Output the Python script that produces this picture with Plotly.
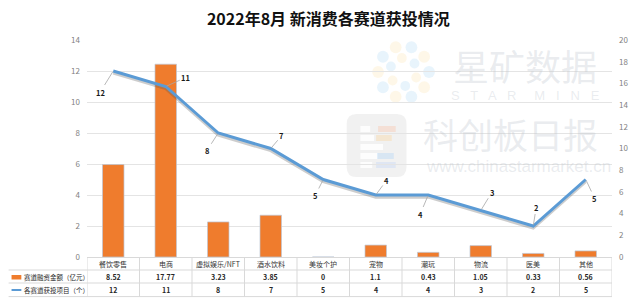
import plotly.graph_objects as go
import math

categories = ["餐饮零售", "电商", "虚拟娱乐/NFT", "酒水饮料", "美妆个护", "宠物", "潮玩", "物流", "医美", "其他"]
funding = [8.52, 17.77, 3.23, 3.85, 0, 1.1, 0.43, 1.05, 0.33, 0.56]
projects = [12, 11, 8, 7, 5, 4, 4, 3, 2, 5]
funding_labels = ["8.52", "17.77", "3.23", "3.85", "0", "1.1", "0.43", "1.05", "0.33", "0.56"]
label_offsets = [(-13, 21), (20, -9), (-11, 17), (11, -13), (-8, 16), (11, -15), (-8, 19), (11, -18), (3, -19), (9, 19)]

W, H = 640, 299
L, R, T, B = 87, 622.7, 40, 257
PW, PH = R - L, B - T


def px(p):
    return (p - L) / PW


def py(p):
    return (B - p) / PH


FONT = "Noto Sans CJK SC"
GRID = "#E4E4E4"
BORDER = "#D9D9D9"
ORANGE = "#EF7C2D"
BLUE = "#5B9BD5"

fig = go.Figure()

fig.add_trace(go.Bar(
    x=categories, y=funding, yaxis="y", width=0.41,
    marker=dict(color=ORANGE, line=dict(color="rgba(190,200,215,0.7)", width=1)),
    hoverinfo="skip",
))
fig.add_trace(go.Scatter(
    x=categories, y=projects, yaxis="y2", mode="lines",
    line=dict(color="rgba(90,90,90,0.3)", width=3), hoverinfo="skip",
))
fig.add_trace(go.Scatter(
    x=categories, y=projects, yaxis="y3", mode="lines",
    line=dict(color=BLUE, width=3), hoverinfo="skip",
))

annotations = []
shapes = []

# line value labels with leader lines
for c, v, (ax, ay) in zip(categories, projects, label_offsets):
    annotations.append(dict(
        x=c, y=v, xref="x", yref="y3", text=f"<b>{v}</b>", showarrow=True,
        ax=ax, ay=ay, arrowhead=0, arrowwidth=0.8, arrowcolor="#A6A6A6",
        standoff=1, font=dict(size=7.5, color="#1a1a1a", family=FONT),
    ))

# table text
for i, c in enumerate(categories):
    annotations.append(dict(x=c, y=py(263.5), xref="x", yref="paper", text=c, showarrow=False,
                            xanchor="center", yanchor="middle",
                            font=dict(size=7, color="#333333", family=FONT)))
    annotations.append(dict(x=c, y=py(276.8), xref="x", yref="paper", text=f"<b>{funding_labels[i]}</b>",
                            showarrow=False, xanchor="center", yanchor="middle",
                            font=dict(size=7, color="#262626", family=FONT)))
    annotations.append(dict(x=c, y=py(290), xref="x", yref="paper", text=f"<b>{projects[i]}</b>",
                            showarrow=False, xanchor="center", yanchor="middle",
                            font=dict(size=7, color="#262626", family=FONT)))

annotations.append(dict(x=px(21), y=py(276.8), xref="paper", yref="paper", text="赛道融资金额（亿元）",
                        showarrow=False, xanchor="left", yanchor="middle",
                        font=dict(size=6.5, color="#262626", family=FONT)))
annotations.append(dict(x=px(21), y=py(290), xref="paper", yref="paper", text="各赛道获投项目（个）",
                        showarrow=False, xanchor="left", yanchor="middle",
                        font=dict(size=6.5, color="#262626", family=FONT)))

# table lines
for yy in [270, 283, 296.6]:
    shapes.append(dict(type="line", xref="paper", yref="paper", x0=px(7), x1=1, y0=py(yy), y1=py(yy),
                       line=dict(color=BORDER, width=1), layer="below"))
for k in range(len(categories) + 1):
    shapes.append(dict(type="line", xref="x", yref="paper", x0=k - 0.5, x1=k - 0.5, y0=0, y1=py(296.6),
                       line=dict(color=BORDER, width=1), layer="below"))

# legend keys
shapes.append(dict(type="rect", xref="paper", yref="paper", x0=px(10), x1=px(20), y0=py(275), y1=py(279.5),
                   fillcolor=ORANGE, line=dict(width=0)))
shapes.append(dict(type="line", xref="paper", yref="paper", x0=px(10), x1=px(20), y0=py(290), y1=py(290),
                   line=dict(color=BLUE, width=2)))

# watermark
WM = "rgba(190,196,205,0.33)"
annotations += [
    dict(x=px(534), y=py(65), xref="paper", yref="paper", text="星矿数据", showarrow=False,
         xanchor="center", yanchor="middle", font=dict(size=36, color=WM, family=FONT)),
    dict(x=px(534), y=py(95), xref="paper", yref="paper", text="S   T   A   R     M   I   N   E", showarrow=False,
         xanchor="center", yanchor="middle", font=dict(size=13, color=WM, family="Liberation Sans")),
    dict(x=px(519), y=py(133), xref="paper", yref="paper", text="科创板日报", showarrow=False,
         xanchor="center", yanchor="middle", font=dict(size=35, color=WM, family=FONT)),
    dict(x=px(527), y=py(166), xref="paper", yref="paper", text="www.chinastarmarket.cn", showarrow=False,
         xanchor="center", yanchor="middle", font=dict(size=17, color=WM, family="Liberation Sans")),
]
x0, x1, y0, y1, r = 352, 413, 114, 177, 10
path = (f"M {px(x0 + r)} {py(y0)} L {px(x1 - r)} {py(y0)} Q {px(x1)} {py(y0)} {px(x1)} {py(y0 + r)} "
        f"L {px(x1)} {py(y1 - r)} Q {px(x1)} {py(y1)} {px(x1 - r)} {py(y1)} "
        f"L {px(x0 + r)} {py(y1)} Q {px(x0)} {py(y1)} {px(x0)} {py(y1 - r)} "
        f"L {px(x0)} {py(y0 + r)} Q {px(x0)} {py(y0)} {px(x0 + r)} {py(y0)} Z")
shapes.append(dict(type="path", xref="paper", yref="paper", path=path,
                   fillcolor="rgba(200,200,200,0.25)", line=dict(width=0), layer="below"))
for j, (bx0, bx1) in enumerate([(366, 376), (366, 380), (366, 389), (366, 384), (366, 378)]):
    yy0 = 126 + j * 9
    shapes.append(dict(type="rect", xref="paper", yref="paper", x0=px(bx0), x1=px(bx1), y0=py(yy0),
                       y1=py(yy0 + 6), fillcolor="rgba(255,255,255,0.85)", line=dict(width=0), layer="below"))
for j, (bx0, bx1, col) in enumerate([(384, 402, "rgba(250,190,160,0.35)"), (382, 398, "rgba(250,210,150,0.35)"),
                                     (392, 404, "rgba(180,210,240,0.0)"), (383, 400, "rgba(170,210,245,0.35)"),
                                     (382, 402, "rgba(190,210,245,0.35)")]):
    yy0 = 126 + j * 9
    shapes.append(dict(type="rect", xref="paper", yref="paper", x0=px(bx0), x1=px(bx1), y0=py(yy0),
                       y1=py(yy0 + 6), fillcolor=col, line=dict(width=0), layer="below"))
dot_cols = ["rgba(150,205,240,0.22)", "rgba(250,220,150,0.22)"]
for ring, (rad, n, size) in enumerate([(26, 10, 6), (14, 6, 5)]):
    for k in range(n):
        ang = 2 * math.pi * k / n + ring * 0.4
        cx, cy = 410 + rad * math.cos(ang), 72 + rad * math.sin(ang)
        shapes.append(dict(type="circle", xref="paper", yref="paper", x0=px(cx - size), x1=px(cx + size),
                           y0=py(cy - size), y1=py(cy + size), fillcolor=dot_cols[(k + ring) % 2],
                           line=dict(width=0), layer="below"))

tickfont = dict(size=8, color="#7F7F7F", family=FONT)
fig.update_layout(
    width=W, height=H,
    margin=dict(l=L, r=W - R, t=T, b=H - B, pad=0),
    paper_bgcolor="white", plot_bgcolor="rgba(0,0,0,0)",
    showlegend=False, bargap=0.5,
    title=dict(text="<b>2022年8月 新消费各赛道获投情况</b>", x=0.513, xanchor="center",
               y=1 - 19 / H, yanchor="middle", font=dict(size=16, color="#111111", family=FONT)),
    xaxis=dict(type="category", range=[-0.5, len(categories) - 0.5], showticklabels=False, ticks="",
               showgrid=False, showline=True, linecolor=BORDER, linewidth=1, zeroline=False),
    yaxis=dict(side="right", range=[0, 20], dtick=2, showgrid=False, zeroline=False, showline=False,
               tickfont=tickfont, ticks="", ticklabelstandoff=6),
    yaxis2=dict(overlaying="y", range=[0.14, 14.14], visible=False, showgrid=False),
    yaxis3=dict(overlaying="y", side="left", range=[0, 14], dtick=2, showgrid=True, gridcolor=GRID,
                gridwidth=1, zeroline=False, showline=False, tickfont=tickfont, ticks="", ticklabelstandoff=6),
    annotations=annotations, shapes=shapes,
)

fig.write_html("out.html", config={"displayModeBar": False},
               post_script="document.body.style.margin='0';document.body.style.overflow='hidden';")
